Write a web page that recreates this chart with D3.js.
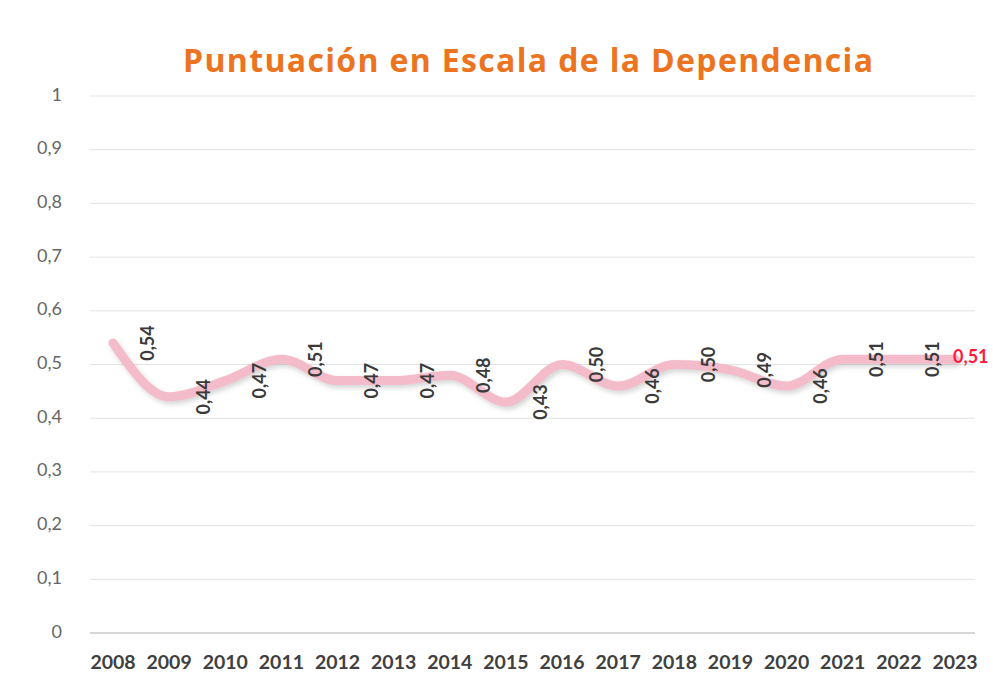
<!DOCTYPE html>
<html>
<head>
<meta charset="utf-8">
<script src="https://cdn.jsdelivr.net/npm/d3@7"></script>
<style>
  html, body { margin: 0; padding: 0; background: #ffffff; }
  svg { display: block; }
</style>
</head>
<body>
<svg id="chart" width="993" height="690"></svg>
<script>
const years = ["2008","2009","2010","2011","2012","2013","2014","2015","2016","2017","2018","2019","2020","2021","2022","2023"];
const scores = [0.54,0.44,0.47,0.51,0.47,0.47,0.48,0.43,0.50,0.46,0.50,0.49,0.46,0.51,0.51,0.51];
const yTicks = [0,0.1,0.2,0.3,0.4,0.5,0.6,0.7,0.8,0.9,1];
const title = "Puntuación en Escala de la Dependencia";

const svg = d3.select("#chart");
const left = 90, right = 975;

const x = d3.scalePoint().domain(years).range([113, 955]);
const y = d3.scaleLinear().domain([0, 1]).range([633, 96]);
const fmt = v => (v === 0 ? "0" : v === 1 ? "1" : d3.format(".1f")(v).replace(".", ","));
const fmt2 = v => d3.format(".2f")(v).replace(".", ",");

const defs = svg.append("defs");
const f = defs.append("filter").attr("id", "shadow").attr("x", "-10%").attr("y", "-50%").attr("width", "120%").attr("height", "200%");
f.append("feDropShadow").attr("dx", 2).attr("dy", 3).attr("stdDeviation", 2.5).attr("flood-color", "#999").attr("flood-opacity", 0.4);

// title
svg.append("text")
  .attr("x", 183).attr("y", 72)
  .attr("textLength", 690)
  .attr("lengthAdjust", "spacing")
  .attr("font-family", "'Open Sans', sans-serif")
  .attr("font-weight", 700)
  .attr("font-size", 32)
  .attr("fill", "#ec7420")
  .text(title);

// gridlines
svg.append("g").selectAll("line").data(yTicks).join("line")
  .attr("x1", left).attr("x2", right)
  .attr("y1", d => y(d)).attr("y2", d => y(d))
  .attr("stroke", d => d === 0 ? "#c8c8c8" : "#e3e3e3")
  .attr("stroke-width", d => d === 0 ? 1.5 : 1);

// y axis labels
svg.append("g").selectAll("text").data(yTicks).join("text")
  .attr("x", 62).attr("y", d => y(d))
  .attr("text-anchor", "end")
  .attr("dominant-baseline", "middle")
  .attr("font-family", "Lato, sans-serif")
  .attr("font-size", 18)
  .attr("fill", "#666666")
  .text(fmt);

// x axis labels
svg.append("g").selectAll("text").data(years).join("text")
  .attr("x", d => x(d)).attr("y", 664)
  .attr("text-anchor", "middle")
  .attr("dominant-baseline", "middle")
  .attr("font-family", "Lato, sans-serif")
  .attr("font-weight", 700)
  .attr("font-size", 19.5)
  .attr("fill", "#404040")
  .text(d => d);

// line
const line = d3.line()
  .x((d, i) => x(years[i]))
  .y(d => y(d))
  .curve(d3.curveMonotoneX);

svg.append("path")
  .datum(scores)
  .attr("d", line)
  .attr("fill", "none")
  .attr("stroke", "#f4bccb")
  .attr("stroke-width", 9)
  .attr("stroke-linecap", "round")
  .attr("stroke-linejoin", "round")
  .attr("filter", "url(#shadow)");

// data labels (rotated) for all but last
const n = scores.length;
svg.append("g").selectAll("text").data(scores.slice(0, n - 1)).join("text")
  .attr("transform", (d, i) => `translate(${x(years[i]) + 36},${y(d)}) rotate(-90)`)
  .attr("text-anchor", "middle")
  .attr("dominant-baseline", "middle")
  .attr("font-family", "Lato, sans-serif")
  .attr("font-weight", 700)
  .attr("font-size", 18)
  .attr("fill", "#3a3a3a")
  .text(fmt2);

// last label in red
svg.append("text")
  .attr("x", x(years[n - 1]) - 2)
  .attr("y", y(scores[n - 1]) - 1)
  .attr("dominant-baseline", "middle")
  .attr("font-family", "Lato, sans-serif")
  .attr("font-weight", 700)
  .attr("font-size", 18)
  .attr("fill", "#ff1a3c")
  .text(fmt2(scores[n - 1]));
</script>
</body>
</html>
